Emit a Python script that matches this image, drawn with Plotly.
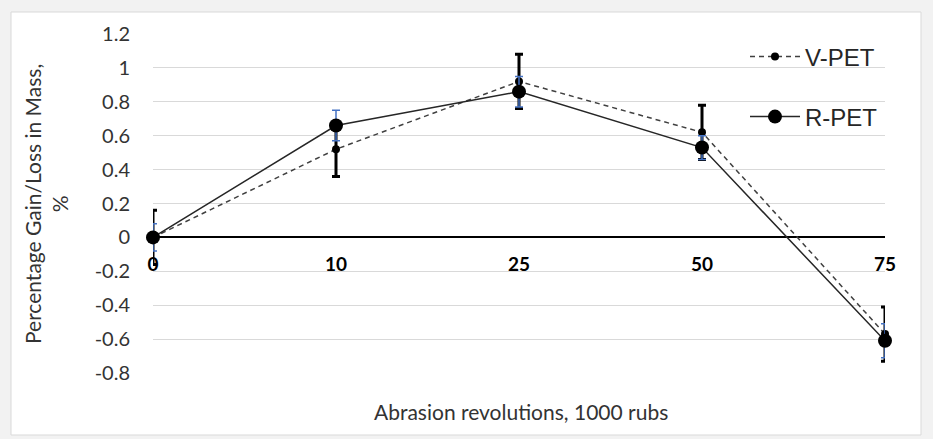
import plotly.graph_objects as go

# ---- data ----
categories = ["0", "10", "25", "50", "75"]
v_pet = [0.0, 0.52, 0.92, 0.62, -0.57]
v_pet_err = [0.16, 0.16, 0.16, 0.16, 0.16]
r_pet = [0.0, 0.66, 0.86, 0.53, -0.61]
r_pet_err = [0.08, 0.09, 0.09, 0.07, 0.10]
y_tickvals = [-0.8, -0.6, -0.4, -0.2, 0.0, 0.2, 0.4, 0.6, 0.8, 1.0, 1.2]
y_ticktext = ["-0.8", "-0.6", "-0.4", "-0.2", "0", "0.2", "0.4", "0.6", "0.8", "1", "1.2"]
x_title = "Abrasion revolutions, 1000 rubs"
y_title = "Percentage Gain/Loss in Mass,<br>%"

# ---- layout geometry (pixels) ----
W, H = 933, 439
L, R, T, B = 153, 48, 34, 66
PW, PH = W - L - R, H - T - B


def px_x(x):
    return (x - L) / PW


def px_y(y):
    return (H - B - y) / PH


fig = go.Figure()

fig.add_trace(go.Scatter(
    x=categories, y=v_pet, name="V-PET", mode="lines+markers",
    line=dict(color="#404040", width=1.5, dash="5px,4px"),
    marker=dict(size=8, color="#000000"),
    error_y=dict(type="data", array=v_pet_err, visible=True,
                 color="#000000", thickness=3, width=4),
    cliponaxis=False, legend="legend",
))
fig.add_trace(go.Scatter(
    x=categories, y=r_pet, name="R-PET", mode="lines+markers",
    line=dict(color="#262626", width=1.5),
    marker=dict(size=14, color="#000000"),
    error_y=dict(type="data", array=r_pet_err, visible=True,
                 color="#4472C4", thickness=1.5, width=4),
    cliponaxis=False, legend="legend2",
))

text_color = "#333333"
tick_font = dict(family="Lato", size=20, color=text_color)
legend_font = dict(family="Liberation Sans", size=24, color="#262626")

fig.update_layout(
    width=W, height=H,
    margin=dict(l=L, r=R, t=T, b=B, pad=0),
    paper_bgcolor="#f2f2f2",
    plot_bgcolor="#ffffff",
    showlegend=True,
    legend=dict(x=px_x(745), y=px_y(57), xanchor="left", yanchor="middle",
                bgcolor="rgba(0,0,0,0)", itemwidth=50, font=legend_font),
    legend2=dict(x=px_x(745), y=px_y(117), xanchor="left", yanchor="middle",
                 bgcolor="rgba(0,0,0,0)", itemwidth=50, font=legend_font),
    xaxis=dict(type="category", range=[0, 4], anchor="free", position=px_y(237),
               showgrid=False, showline=False, zeroline=False, ticks="",
               ticklabelstandoff=14,
               tickfont=dict(family="Lato", size=19, color="#000000", weight="bold")),
    yaxis=dict(range=[-0.8, 1.2], tickmode="array", tickvals=y_tickvals, ticktext=y_ticktext,
               showgrid=True, gridcolor="#d9d9d9", gridwidth=1,
               zeroline=True, zerolinecolor="#000000", zerolinewidth=1.5,
               showline=False, ticks="", ticklabelstandoff=22, tickfont=tick_font),
    shapes=[dict(type="rect", xref="paper", yref="paper",
                 x0=px_x(11), x1=px_x(921), y0=px_y(435), y1=px_y(12),
                 fillcolor="#ffffff", line=dict(color="#d9d9d9", width=1), layer="below")],
    annotations=[
        dict(text=x_title, xref="paper", yref="paper", x=px_x(521), y=px_y(411),
             xanchor="center", yanchor="middle", showarrow=False,
             font=dict(family="Lato", size=21, color=text_color)),
        dict(text=y_title, xref="paper", yref="paper", x=px_x(46), y=px_y(204),
             xanchor="center", yanchor="middle", showarrow=False, textangle=-90,
             font=dict(family="Lato", size=21, color=text_color)),
    ],
)

fig.write_html("out.html")
